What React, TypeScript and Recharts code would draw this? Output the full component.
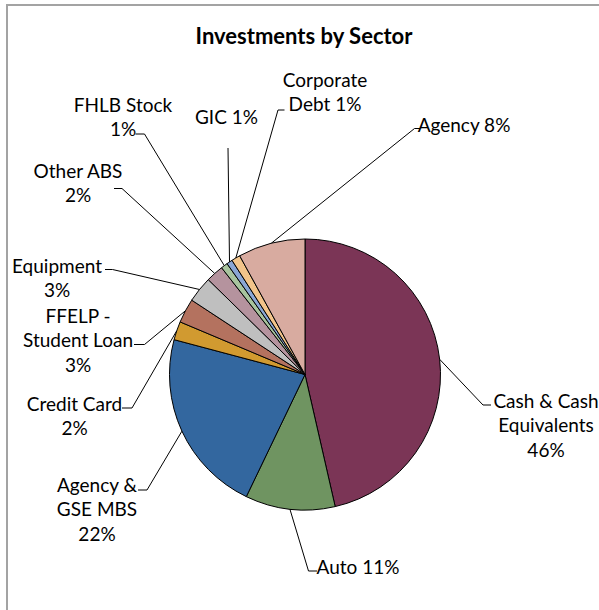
import React from 'react';
import { PieChart, Pie, Cell } from 'recharts';

const sectors = [
  'Cash & Cash Equivalents',
  'Auto',
  'Agency & GSE MBS',
  'Credit Card',
  'FFELP - Student Loan',
  'Equipment',
  'Other ABS',
  'FHLB Stock',
  'GIC',
  'Corporate Debt',
  'Agency',
];

const shares = [46.4, 10.7, 22.0, 2.2, 2.9, 3.1, 2.1, 0.8, 0.7, 1.05, 8.0];

const colors = [
  '#7b3556', '#6f9461', '#33679f', '#d19a30', '#b4725f', '#bfbfbf',
  '#b5939e', '#a8c49e', '#8aa6d4', '#f2c48a', '#d8aba0',
];

const data = sectors.map((name, i) => ({ name, value: shares[i] }));

// where Excel put each label: text lines, line centre, elbow + tail of the leader
type LabelPos = {
  lines: string[];
  pctOwnLine: boolean;
  x: number;
  y: number;
  elbow: [number, number];
  tail?: [number, number];
};

const labelPos: LabelPos[] = [
  { lines: ['Cash & Cash', 'Equivalents'], pctOwnLine: true, x: 546, y: 400, elbow: [483, 405], tail: [491, 405] },
  { lines: ['Auto'], pctOwnLine: false, x: 358, y: 566, elbow: [308.5, 571], tail: [317, 571] },
  { lines: ['Agency &', 'GSE MBS'], pctOwnLine: true, x: 97, y: 484, elbow: [147, 490], tail: [138, 490] },
  { lines: ['Credit Card'], pctOwnLine: true, x: 74.5, y: 403, elbow: [132, 408], tail: [122, 408] },
  { lines: ['FFELP -', 'Student Loan'], pctOwnLine: true, x: 78, y: 315, elbow: [144.5, 344.5], tail: [134, 344.5] },
  { lines: ['Equipment'], pctOwnLine: true, x: 57, y: 265, elbow: [112.5, 269.5], tail: [105, 269.5] },
  { lines: ['Other ABS'], pctOwnLine: true, x: 78, y: 170, elbow: [122, 188.5], tail: [114, 188.5] },
  { lines: ['FHLB Stock'], pctOwnLine: true, x: 123, y: 104, elbow: [144.5, 134], tail: [135.5, 134] },
  { lines: ['GIC'], pctOwnLine: false, x: 226.5, y: 116, elbow: [228, 148] },
  { lines: ['Corporate', 'Debt'], pctOwnLine: false, x: 325, y: 79, elbow: [278, 110], tail: [284.5, 110] },
  { lines: ['Agency'], pctOwnLine: false, x: 464, y: 124, elbow: [414.5, 128.5], tail: [420, 128.5] },
];

const FONT = 'Lato, "Open Sans", sans-serif';
const LINE_H = 24.5;
const RADIAN = Math.PI / 180;

const renderLabel = (props: any) => {
  const { cx, cy, midAngle, outerRadius, percent, index } = props;
  const pos = labelPos[index];
  const sx = cx + outerRadius * Math.cos(-midAngle * RADIAN);
  const sy = cy + outerRadius * Math.sin(-midAngle * RADIAN);
  const pct = `${Math.round(percent * 100)}%`;
  const lines = pos.pctOwnLine
    ? [...pos.lines, pct]
    : [...pos.lines.slice(0, -1), `${pos.lines[pos.lines.length - 1]} ${pct}`];
  const pts = [[sx, sy], pos.elbow];
  if (pos.tail) pts.push(pos.tail);
  return (
    <g>
      <polyline
        points={pts.map((p) => p.join(',')).join(' ')}
        fill="none"
        stroke="#000"
        strokeWidth={1}
      />
      <text x={pos.x} y={pos.y} textAnchor="middle" fill="#000" fontFamily={FONT} fontSize={19}>
        {lines.map((l, i) => (
          <tspan key={i} x={pos.x} y={pos.y + i * LINE_H} dominantBaseline="central">
            {l}
          </tspan>
        ))}
      </text>
    </g>
  );
};

export default function App() {
  return (
    <div style={{ position: 'absolute', left: 0, top: 0, width: 599, height: 610, overflow: 'hidden', background: '#fff' }}>
      <div
        style={{
          position: 'absolute',
          left: 6,
          top: 4,
          width: 593,
          height: 606,
          borderTop: '2px solid #a3a3a3',
          borderLeft: '2px solid #a3a3a3',
          boxSizing: 'border-box',
        }}
      />
      <PieChart
        width={599}
        height={610}
        margin={{ top: 0, right: 0, bottom: 0, left: 0 }}
        style={{ position: 'absolute', left: 0, top: 0 }}
      >
        <text x={304} y={35} textAnchor="middle" dominantBaseline="central" fontFamily={FONT} fontWeight="bold" fontSize={22} fill="#000">
          Investments by Sector
        </text>
        <Pie
          data={data}
          dataKey="value"
          nameKey="name"
          cx={305}
          cy={374.5}
          outerRadius={135.5}
          startAngle={90}
          endAngle={-270}
          stroke="#000"
          strokeWidth={1}
          label={renderLabel}
          labelLine={false}
          isAnimationActive={false}
        >
          {data.map((d, i) => (
            <Cell key={d.name} fill={colors[i]} />
          ))}
        </Pie>
      </PieChart>
    </div>
  );
}
